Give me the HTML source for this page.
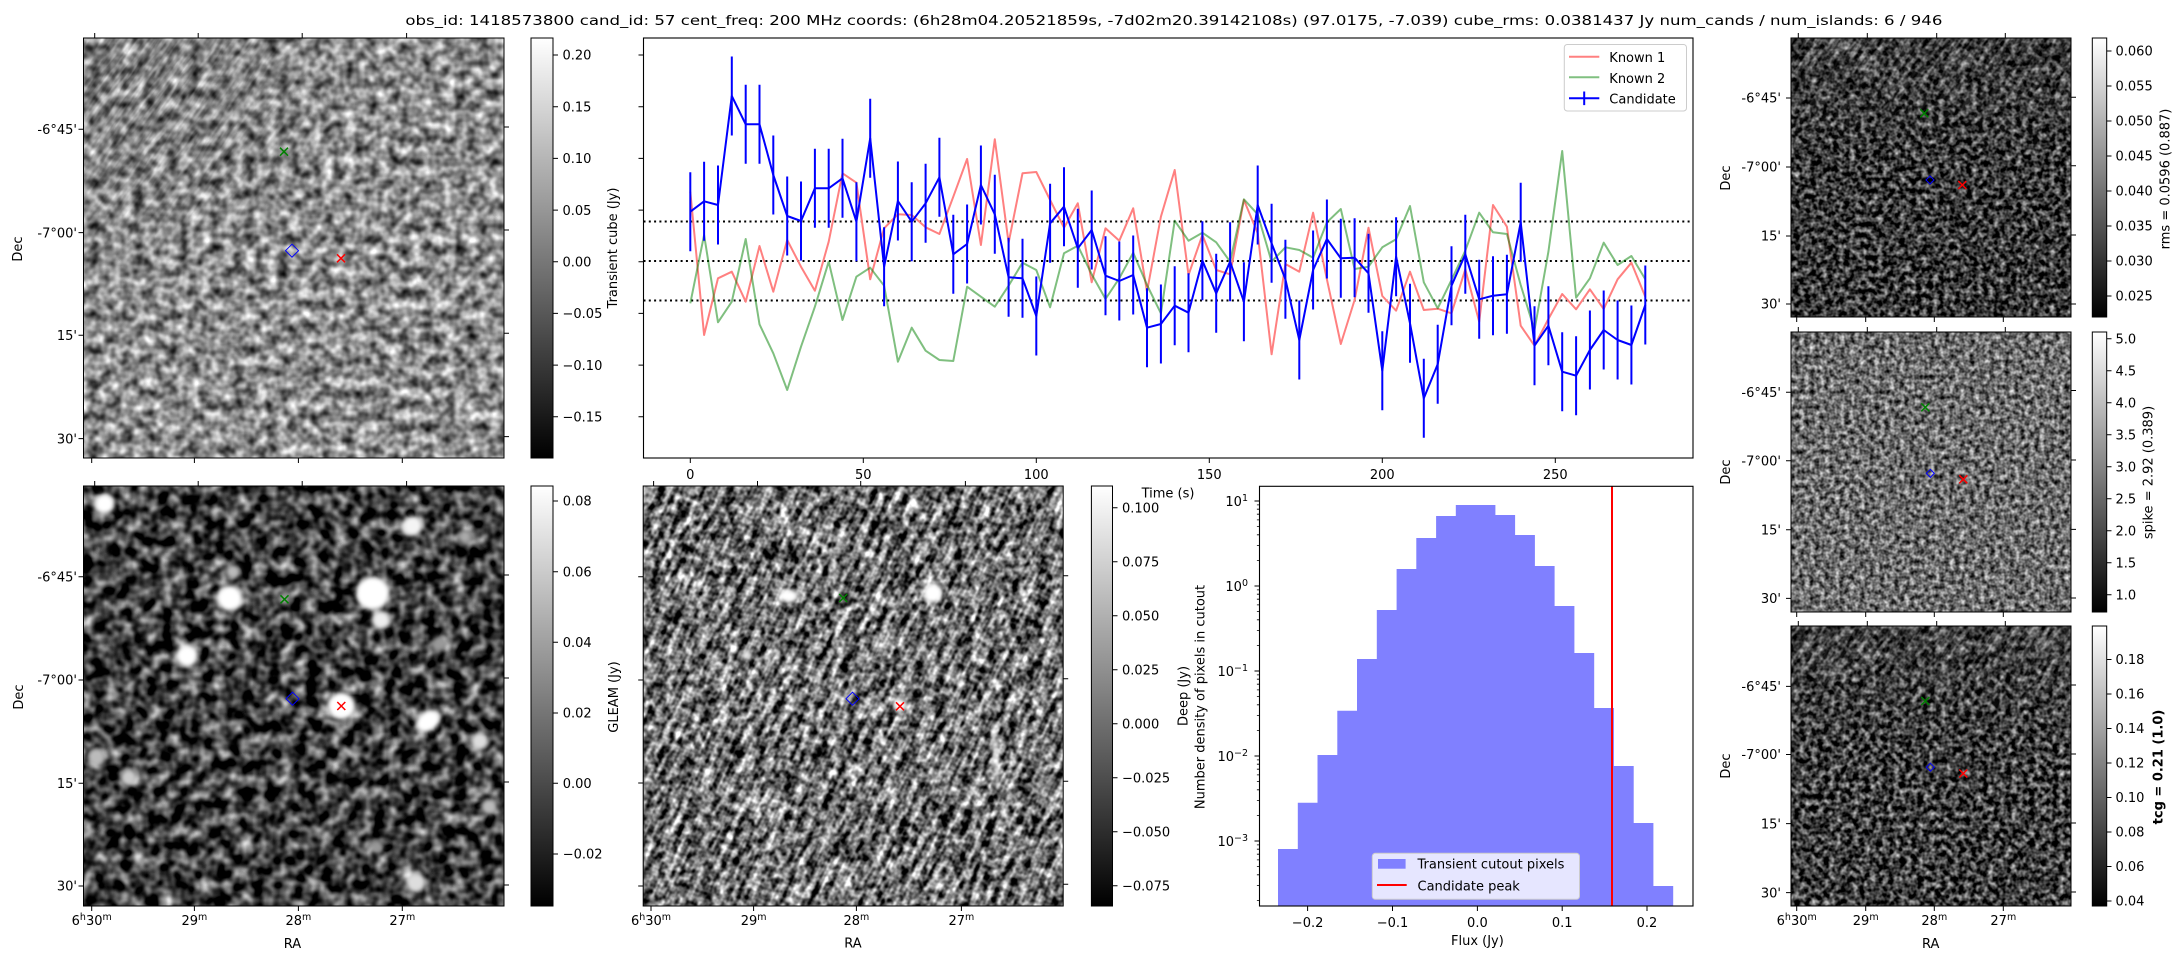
<!DOCTYPE html>
<html><head><meta charset="utf-8"><title>candidate</title>
<style>
html,body{margin:0;padding:0;background:#fff;width:2184px;height:960px;overflow:hidden}
svg{display:block}
text{font-family:"DejaVu Sans","Liberation Sans",sans-serif;font-size:13px;fill:#000}
</style></head><body>
<svg xmlns="http://www.w3.org/2000/svg" width="2184" height="960" viewBox="0 0 2184 960" overflow="hidden">
<defs>
<linearGradient id="cbg" x1="0" y1="1" x2="0" y2="0"><stop offset="0" stop-color="#000"/><stop offset="1" stop-color="#fff"/></linearGradient>
<linearGradient id="fade" x1="0" y1="0" x2="0" y2="1"><stop offset="0" stop-color="#fff"/><stop offset="0.42" stop-color="#000"/></linearGradient>
<radialGradient id="ulfade" cx="0.15" cy="0.1" r="0.5"><stop offset="0" stop-color="#fff"/><stop offset="1" stop-color="#000"/></radialGradient>
<filter id="fA" x="0" y="0" width="1" height="1" color-interpolation-filters="sRGB">
<feTurbulence type="fractalNoise" baseFrequency="0.09" numOctaves="2" seed="11"/>
<feColorMatrix type="matrix" values="1.3 0 0 0 -0.1 1.3 0 0 0 -0.1 1.3 0 0 0 -0.1 0 0 0 0 1"/>
</filter>
<filter id="fF" x="0" y="0" width="1" height="1" color-interpolation-filters="sRGB">
<feTurbulence type="fractalNoise" baseFrequency="0.075" numOctaves="2" seed="5"/>
<feColorMatrix type="matrix" values="1.6 0 0 0 -0.55 1.6 0 0 0 -0.55 1.6 0 0 0 -0.55 0 0 0 0 1"/>
</filter>
<filter id="fG" x="0" y="0" width="1" height="1" color-interpolation-filters="sRGB">
<feTurbulence type="fractalNoise" baseFrequency="0.03 0.15" numOctaves="2" seed="21" result="t1"/>
<feColorMatrix in="t1" type="matrix" values="1 0 0 0 0 1 0 0 0 0 1 0 0 0 0 0 0 0 0 1" result="a1"/>
<feTurbulence type="fractalNoise" baseFrequency="0.14" numOctaves="2" seed="9" result="t2"/>
<feColorMatrix in="t2" type="matrix" values="1 0 0 0 0 1 0 0 0 0 1 0 0 0 0 0 0 0 0 1" result="a2"/>
<feComposite in="a1" in2="a2" operator="arithmetic" k1="0" k2="0.5" k3="0.5" k4="0"/>
<feColorMatrix type="matrix" values="2.8 0 0 0 -0.96 2.8 0 0 0 -0.96 2.8 0 0 0 -0.96 0 0 0 0 1"/>
</filter>
<filter id="fR1" x="0" y="0" width="1" height="1" color-interpolation-filters="sRGB">
<feTurbulence type="fractalNoise" baseFrequency="0.18" numOctaves="2" seed="31"/>
<feColorMatrix type="matrix" values="1.5 0 0 0 -0.53 1.5 0 0 0 -0.53 1.5 0 0 0 -0.53 0 0 0 0 1"/>
</filter>
<filter id="fR2" x="0" y="0" width="1" height="1" color-interpolation-filters="sRGB">
<feTurbulence type="fractalNoise" baseFrequency="0.2" numOctaves="2" seed="41"/>
<feColorMatrix type="matrix" values="1.25 0 0 0 -0.2 1.25 0 0 0 -0.2 1.25 0 0 0 -0.2 0 0 0 0 1"/>
</filter>
<filter id="fR3" x="0" y="0" width="1" height="1" color-interpolation-filters="sRGB">
<feTurbulence type="fractalNoise" baseFrequency="0.17" numOctaves="2" seed="51"/>
<feColorMatrix type="matrix" values="1.5 0 0 0 -0.51 1.5 0 0 0 -0.51 1.5 0 0 0 -0.51 0 0 0 0 1"/>
</filter>
<filter id="fS" x="0" y="0" width="1" height="1" color-interpolation-filters="sRGB">
<feTurbulence type="fractalNoise" baseFrequency="0.035 0.2" numOctaves="2" seed="61"/>
<feColorMatrix type="matrix" values="3.0 0 0 0 -1.2 3.0 0 0 0 -1.2 3.0 0 0 0 -1.2 0 0 0 0 1"/>
</filter>
<pattern id="pG" patternUnits="userSpaceOnUse" x="0" y="0" width="1400" height="1400" patternTransform="rotate(-65 853 696)"><rect x="0" y="0" width="1400" height="1400" filter="url(#fG)"/></pattern>
<pattern id="pS" patternUnits="userSpaceOnUse" x="1300" y="-100" width="1200" height="1200" patternTransform="rotate(-55 1931 472)"><rect x="0" y="0" width="1200" height="1200" filter="url(#fS)"/></pattern>
<pattern id="pSA" patternUnits="userSpaceOnUse" x="-300" y="-300" width="1100" height="1100" patternTransform="rotate(-55 294 248)"><rect x="0" y="0" width="1100" height="1100" filter="url(#fS)"/></pattern>
<filter id="blur" x="-1" y="-1" width="3" height="3"><feGaussianBlur stdDeviation="2.5"/></filter>
<clipPath id="cpF"><rect x="83.5" y="486" width="420.5" height="420"/></clipPath>
<clipPath id="cpG"><rect x="643.2" y="486" width="420" height="420"/></clipPath>
<clipPath id="cpL"><rect x="643.5" y="38" width="1049.5" height="420"/></clipPath>
<mask id="mk1" maskUnits="userSpaceOnUse" x="1791" y="38" width="280" height="279"><rect x="1791" y="38" width="280" height="279" fill="url(#fade)"/></mask>
<mask id="mk3" maskUnits="userSpaceOnUse" x="1791" y="626" width="280" height="280"><rect x="1791" y="626" width="280" height="280" fill="url(#fade)"/></mask>
<mask id="mkA" maskUnits="userSpaceOnUse" x="83.5" y="38" width="420.5" height="420"><rect x="83.5" y="38" width="420.5" height="420" fill="url(#ulfade)"/></mask>
</defs>

<!-- Title -->
<text x="405.4" y="25" font-size="16.5" textLength="1537" lengthAdjust="spacingAndGlyphs">obs_id: 1418573800 cand_id: 57 cent_freq: 200 MHz coords: (6h28m04.20521859s, -7d02m20.39142108s) (97.0175, -7.039) cube_rms: 0.0381437 Jy num_cands / num_islands: 6 / 946</text>

<!-- ===== Top-left transient image ===== -->
<rect x="83.5" y="38" width="420.5" height="420" filter="url(#fA)"/>
<rect x="83.5" y="38" width="420.5" height="420" fill="url(#pSA)" mask="url(#mkA)" opacity="0.25"/>
<rect x="83.5" y="38" width="420.5" height="420" fill="none" stroke="#000" stroke-width="1"/>
<g stroke="#000" stroke-width="1" fill="none">
<path d="M94.7,38V33M198.2,38V33M302.2,38V33M406.6,38V33M91.7,458V463M194.4,458V463M298.4,458V463M402.3,458V463M83.5,129.3H78.5M83.5,232.6H78.5M83.5,335.3H78.5M83.5,438.6H78.5M504,127H509M504,230H509M504,333.3H509M504,436.6H509"/>
</g>
<g text-anchor="end">
<text x="77" y="134">-6°45'</text><text x="77" y="237.3">-7°00'</text><text x="77" y="340">15'</text><text x="77" y="443.3">30'</text>
</g>
<text transform="translate(22,249) rotate(-90)" text-anchor="middle">Dec</text>
<path d="M280,147.7L288,155.7M280,155.7L288,147.7" stroke="#008000" stroke-width="1.5"/>
<path d="M292,244.2L298.5,250.7L292,257.2L285.5,250.7Z" stroke="#0000ff" stroke-width="1" fill="none"/>
<path d="M337,254.3L345,262.3M337,262.3L345,254.3" stroke="#ff0000" stroke-width="1.5"/>

<!-- colorbar A -->
<rect x="531" y="38" width="22" height="420" fill="url(#cbg)" stroke="#000" stroke-width="1"/>
<path d="M553,55H558M553,106.7H558M553,158.4H558M553,210.1H558M553,261.7H558M553,313.4H558M553,365.1H558M553,416.8H558" stroke="#000" stroke-width="1"/>
<g>
<text x="562.5" y="59.7">0.20</text><text x="562.5" y="111.4">0.15</text><text x="562.5" y="163.1">0.10</text><text x="562.5" y="214.8">0.05</text><text x="562.5" y="266.4">0.00</text><text x="562.5" y="318.1">−0.05</text><text x="562.5" y="369.8">−0.10</text><text x="562.5" y="421.5">−0.15</text>
</g>
<text transform="translate(617,248) rotate(-90)" text-anchor="middle">Transient cube (Jy)</text>

<!-- ===== Light curve ===== -->
<g clip-path="url(#cpL)">
<path d="M643.5,221.5H1693M643.5,261H1693M643.5,300.5H1693" stroke="#000" stroke-width="2" stroke-dasharray="2 3.3" fill="none"/>
<polyline fill="none" stroke="#ff8080" stroke-width="2" stroke-linejoin="round" points="690.3,191.7 704.1,335 718.0,278.3 731.8,271.7 745.7,301.7 759.5,246 773.3,291.7 787.2,240 801.0,266.7 814.9,290.7 828.7,241.7 842.5,173.3 856.4,182.7 870.2,279.3 884.1,228.3 897.9,214.3 911.7,215 925.6,227.3 939.4,234 953.3,196.7 967.1,159 980.9,245 994.8,139.3 1008.6,242.7 1022.5,173.3 1036.3,172 1050.1,200 1064.0,227.7 1077.8,203.3 1091.7,282.3 1105.5,228.3 1119.3,240.7 1133.2,208.3 1147.0,291.7 1160.9,216.7 1174.7,170 1188.5,275 1202.4,235 1216.2,270 1230.1,274.3 1243.9,200 1257.7,233.3 1271.6,354.3 1285.4,264 1299.3,271.7 1313.1,212.7 1326.9,279.3 1340.8,344 1354.6,300 1368.5,227.7 1382.3,296 1396.1,310.7 1410.0,271.7 1423.8,310 1437.7,308.7 1451.5,313.3 1465.3,269.3 1479.2,321.7 1493.0,205 1506.9,226.7 1520.7,325.7 1534.5,345.7 1548.4,319 1562.2,294 1576.1,309.3 1589.9,289.3 1603.7,309 1617.6,279.3 1631.4,262.7 1645.3,296.7"/>
<polyline fill="none" stroke="#008000" stroke-opacity="0.5" stroke-width="2" stroke-linejoin="round" points="690.3,303.3 704.1,235 718.0,322.3 731.8,301.7 745.7,239 759.5,324.3 773.3,353.3 787.2,390 801.0,346.7 814.9,306.7 828.7,261.7 842.5,320 856.4,276.7 870.2,267.7 884.1,285.7 897.9,361.7 911.7,327.7 925.6,350.7 939.4,360 953.3,361 967.1,286.7 980.9,296.7 994.8,306.7 1008.6,285.7 1022.5,262.7 1036.3,270 1050.1,307.3 1064.0,253.3 1077.8,245.7 1091.7,274.3 1105.5,299 1119.3,278.3 1133.2,252.7 1147.0,285 1160.9,313.3 1174.7,220.7 1188.5,240.7 1202.4,232.7 1216.2,242.3 1230.1,261.7 1243.9,199.3 1257.7,214.3 1271.6,261.7 1285.4,247.3 1299.3,250 1313.1,257.7 1326.9,222.3 1340.8,209 1354.6,269 1368.5,266.7 1382.3,247.3 1396.1,239.3 1410.0,206 1423.8,282.3 1437.7,308.3 1451.5,280 1465.3,250.7 1479.2,212.7 1493.0,232.3 1506.9,234 1520.7,285 1534.5,330 1548.4,251.7 1562.2,151 1576.1,297.7 1589.9,278.3 1603.7,242.7 1617.6,265 1631.4,256 1645.3,279.3"/>
<path stroke="#0000ff" stroke-width="2" fill="none" d="M690.3,172.2V251.2M704.1,161.8V240.8M718.0,165.5V244.5M731.8,56.5V135.5M745.7,84.8V163.8M759.5,84.8V163.8M773.3,135.5V214.5M787.2,176.5V255.5M801.0,181.5V260.5M814.9,148.8V227.8M828.7,148.8V227.8M842.5,138.8V217.8M856.4,182.2V261.2M870.2,98.8V177.8M884.1,227.2V306.2M897.9,161.5V240.5M911.7,182.2V261.2M925.6,163.8V242.8M939.4,137.8V216.8M953.3,214.8V293.8M967.1,204.5V283.5M980.9,145.5V224.5M994.8,174.8V253.8M1008.6,237.8V316.8M1022.5,238.8V317.8M1036.3,276.5V355.5M1050.1,183.8V262.8M1064.0,167.2V246.2M1077.8,208.8V287.8M1091.7,190.5V269.5M1105.5,236.2V315.2M1119.3,241.5V320.5M1133.2,235.5V314.5M1147.0,288.2V367.2M1160.9,284.5V363.5M1174.7,266.2V345.2M1188.5,273.2V352.2M1202.4,221.2V300.2M1216.2,253.8V332.8M1230.1,222.2V301.2M1243.9,262.2V341.2M1257.7,165.5V244.5M1271.6,203.8V282.8M1285.4,239.8V318.8M1299.3,300.5V379.5M1313.1,230.5V309.5M1326.9,199.5V278.5M1340.8,218.8V297.8M1354.6,218.2V297.2M1368.5,233.8V312.8M1382.3,331.2V410.2M1396.1,217.2V296.2M1410.0,283.8V362.8M1423.8,358.8V437.8M1437.7,324.8V403.8M1451.5,246.2V325.2M1465.3,214.8V293.8M1479.2,259.8V338.8M1493.0,256.2V335.2M1506.9,254.8V333.8M1520.7,182.8V261.8M1534.5,306.2V385.2M1548.4,286.2V365.2M1562.2,332.2V411.2M1576.1,336.2V415.2M1589.9,310.5V389.5M1603.7,290.5V369.5M1617.6,300.5V379.5M1631.4,305.5V384.5M1645.3,265.5V344.5"/>
<polyline fill="none" stroke="#0000ff" stroke-width="2" stroke-linejoin="round" points="690.3,211.7 704.1,201.3 718.0,205 731.8,96 745.7,124.3 759.5,124.3 773.3,175 787.2,216 801.0,221 814.9,188.3 828.7,188.3 842.5,178.3 856.4,221.7 870.2,138.3 884.1,266.7 897.9,201 911.7,221.7 925.6,203.3 939.4,177.3 953.3,254.3 967.1,244 980.9,185 994.8,214.3 1008.6,277.3 1022.5,278.3 1036.3,316 1050.1,223.3 1064.0,206.7 1077.8,248.3 1091.7,230 1105.5,275.7 1119.3,281 1133.2,275 1147.0,327.7 1160.9,324 1174.7,305.7 1188.5,312.7 1202.4,260.7 1216.2,293.3 1230.1,261.7 1243.9,301.7 1257.7,205 1271.6,243.3 1285.4,279.3 1299.3,340 1313.1,270 1326.9,239 1340.8,258.3 1354.6,257.7 1368.5,273.3 1382.3,370.7 1396.1,256.7 1410.0,323.3 1423.8,398.3 1437.7,364.3 1451.5,285.7 1465.3,254.3 1479.2,299.3 1493.0,295.7 1506.9,294.3 1520.7,222.3 1534.5,345.7 1548.4,325.7 1562.2,371.7 1576.1,375.7 1589.9,350 1603.7,330 1617.6,340 1631.4,345 1645.3,305"/>
</g>
<rect x="643.5" y="38" width="1049.5" height="420" fill="none" stroke="#000" stroke-width="1.1"/>
<path d="M643.5,55H638.5M643.5,106.7H638.5M643.5,158.4H638.5M643.5,210.1H638.5M643.5,261.7H638.5M643.5,313.4H638.5M643.5,365.1H638.5M643.5,416.8H638.5M690.3,458V463M863.3,458V463M1036.3,458V463M1209.3,458V463M1382.3,458V463M1555.3,458V463" stroke="#000" stroke-width="1"/>
<g text-anchor="middle">
<text x="690.3" y="479">0</text><text x="863.3" y="479">50</text><text x="1036.3" y="479">100</text><text x="1209.3" y="479">150</text><text x="1382.3" y="479">200</text><text x="1555.3" y="479">250</text>
<text x="1168" y="497.5">Time (s)</text>
</g>
<!-- legend -->
<rect x="1564.3" y="44.5" width="122.2" height="66.5" rx="3" fill="#fff" fill-opacity="0.8" stroke="#cccccc" stroke-width="1"/>
<path d="M1569,56.7H1599.3" stroke="#ff8080" stroke-width="2"/>
<path d="M1569,77.3H1599.3" stroke="#80c080" stroke-width="2"/>
<path d="M1569,98.3H1599.3M1584.2,91.5V105.1" stroke="#0000ff" stroke-width="2"/>
<text x="1609.3" y="62">Known 1</text>
<text x="1609.3" y="82.8">Known 2</text>
<text x="1609.3" y="103.6">Candidate</text>

<!-- ===== Right top (rms) ===== -->
<rect x="1791" y="38" width="280" height="279" filter="url(#fR1)"/>
<rect x="1791" y="38" width="280" height="279" fill="url(#pS)" mask="url(#mk1)" opacity="0.35"/>
<rect x="1791" y="38" width="280" height="279" fill="none" stroke="#000" stroke-width="1"/>
<path d="M1798.3,38V33M1867.3,38V33M1936.7,38V33M2005.3,38V33M1796.7,317V322M1865.7,317V322M1934.3,317V322M2003.3,317V322M1791,98H1786M1791,167H1786M1791,236H1786M1791,304H1786M2071,97.3H2076M2071,165.7H2076M2071,235H2076M2071,304H2076" stroke="#000" stroke-width="1"/>
<g text-anchor="end"><text x="1781" y="102.7">-6°45'</text><text x="1781" y="171.7">-7°00'</text><text x="1781" y="240.7">15'</text><text x="1781" y="308.7">30'</text></g>
<text transform="translate(1730,178) rotate(-90)" text-anchor="middle">Dec</text>
<path d="M1920.3,109.3L1928.3,117.3M1920.3,117.3L1928.3,109.3" stroke="#008000" stroke-width="1.5"/>
<path d="M1930,176L1934,180L1930,184L1926,180Z" stroke="#0000ff" stroke-width="1" fill="none"/>
<path d="M1958.3,181L1966.3,189M1958.3,189L1966.3,181" stroke="#ff0000" stroke-width="1.5"/>
<rect x="2092.3" y="38" width="14.4" height="279" fill="url(#cbg)" stroke="#000" stroke-width="1"/>
<path d="M2106.7,51H2111.5M2106.7,86H2111.5M2106.7,121H2111.5M2106.7,156H2111.5M2106.7,191H2111.5M2106.7,226H2111.5M2106.7,261H2111.5M2106.7,296H2111.5" stroke="#000" stroke-width="1"/>
<g><text x="2115.5" y="55.7">0.060</text><text x="2115.5" y="90.7">0.055</text><text x="2115.5" y="125.7">0.050</text><text x="2115.5" y="160.7">0.045</text><text x="2115.5" y="195.7">0.040</text><text x="2115.5" y="230.7">0.035</text><text x="2115.5" y="265.7">0.030</text><text x="2115.5" y="300.7">0.025</text></g>
<text transform="translate(2169.5,179) rotate(-90)" text-anchor="middle">rms = 0.0596 (0.887)</text>

<!-- ===== Right middle (spike) ===== -->
<rect x="1791" y="332" width="280" height="280" filter="url(#fR2)"/>
<rect x="1791" y="332" width="280" height="280" fill="none" stroke="#000" stroke-width="1"/>
<path d="M1798.3,332V327M1867.3,332V327M1936.7,332V327M2005.3,332V327M1796.7,612V617M1865.7,612V617M1934.3,612V617M2003.3,612V617M1791,392.2H1786M1791,460.8H1786M1791,529.8H1786M1791,598.4H1786M2071,390.5H2076M2071,460H2076M2071,529.4H2076M2071,598H2076" stroke="#000" stroke-width="1"/>
<g text-anchor="end"><text x="1781" y="396.9">-6°45'</text><text x="1781" y="465.5">-7°00'</text><text x="1781" y="534.5">15'</text><text x="1781" y="603.1">30'</text></g>
<text transform="translate(1730,472) rotate(-90)" text-anchor="middle">Dec</text>
<path d="M1921.3,403.3L1929.3,411.3M1921.3,411.3L1929.3,403.3" stroke="#008000" stroke-width="1.5"/>
<path d="M1930.3,469.4L1934.3,473.4L1930.3,477.4L1926.3,473.4Z" stroke="#0000ff" stroke-width="1" fill="none"/>
<path d="M1959.3,475.3L1967.3,483.3M1959.3,483.3L1967.3,475.3" stroke="#ff0000" stroke-width="1.5"/>
<rect x="2092.3" y="332" width="14.4" height="280" fill="url(#cbg)" stroke="#000" stroke-width="1"/>
<path d="M2106.7,338.7H2111.5M2106.7,370.7H2111.5M2106.7,402.7H2111.5M2106.7,434.7H2111.5M2106.7,466.7H2111.5M2106.7,498.7H2111.5M2106.7,530.7H2111.5M2106.7,562.7H2111.5M2106.7,594.7H2111.5" stroke="#000" stroke-width="1"/>
<g><text x="2115.5" y="343.4">5.0</text><text x="2115.5" y="375.4">4.5</text><text x="2115.5" y="407.4">4.0</text><text x="2115.5" y="439.4">3.5</text><text x="2115.5" y="471.4">3.0</text><text x="2115.5" y="503.4">2.5</text><text x="2115.5" y="535.4">2.0</text><text x="2115.5" y="567.4">1.5</text><text x="2115.5" y="599.4">1.0</text></g>
<text transform="translate(2152.5,472.5) rotate(-90)" text-anchor="middle">spike = 2.92 (0.389)</text>

<!-- ===== Right bottom (tcg) ===== -->
<rect x="1791" y="626" width="280" height="280" filter="url(#fR3)"/>
<rect x="1791" y="626" width="280" height="280" fill="url(#pS)" mask="url(#mk3)" opacity="0.35"/>
<rect x="1791" y="626" width="280" height="280" fill="none" stroke="#000" stroke-width="1"/>
<path d="M1798.3,626V621M1867.3,626V621M1936.7,626V621M2005.3,626V621M1796.7,906V911M1865.7,906V911M1934.3,906V911M2003.3,906V911M1791,686.4H1786M1791,754.5H1786M1791,823.6H1786M1791,892.6H1786M2071,685H2076M2071,754H2076M2071,823H2076M2071,892H2076" stroke="#000" stroke-width="1"/>
<g text-anchor="end"><text x="1781" y="691.1">-6°45'</text><text x="1781" y="759.2">-7°00'</text><text x="1781" y="828.3">15'</text><text x="1781" y="897.3">30'</text></g>
<text transform="translate(1730,766) rotate(-90)" text-anchor="middle">Dec</text>
<g text-anchor="middle">
<text x="1796.7" y="925">6<tspan dy="-5" font-size="9.5">h</tspan><tspan dy="5">30</tspan><tspan dy="-5" font-size="9.5">m</tspan></text>
<text x="1865.7" y="925">29<tspan dy="-5" font-size="9.5">m</tspan></text>
<text x="1934.3" y="925">28<tspan dy="-5" font-size="9.5">m</tspan></text>
<text x="2003.3" y="925">27<tspan dy="-5" font-size="9.5">m</tspan></text>
<text x="1930.7" y="948">RA</text>
</g>
<path d="M1921.3,697L1929.3,705M1921.3,705L1929.3,697" stroke="#008000" stroke-width="1.5"/>
<path d="M1930.3,763.2L1934.3,767.2L1930.3,771.2L1926.3,767.2Z" stroke="#0000ff" stroke-width="1" fill="none"/>
<path d="M1959.3,769.5L1967.3,777.5M1959.3,777.5L1967.3,769.5" stroke="#ff0000" stroke-width="1.5"/>
<rect x="2092.3" y="626" width="14.4" height="280" fill="url(#cbg)" stroke="#000" stroke-width="1"/>
<path d="M2106.7,659.5H2111.5M2106.7,694H2111.5M2106.7,728.5H2111.5M2106.7,763H2111.5M2106.7,797.5H2111.5M2106.7,832H2111.5M2106.7,866.5H2111.5M2106.7,901H2111.5" stroke="#000" stroke-width="1"/>
<g><text x="2115.5" y="664.2">0.18</text><text x="2115.5" y="698.7">0.16</text><text x="2115.5" y="733.2">0.14</text><text x="2115.5" y="767.7">0.12</text><text x="2115.5" y="802.2">0.10</text><text x="2115.5" y="836.7">0.08</text><text x="2115.5" y="871.2">0.06</text><text x="2115.5" y="905.7">0.04</text></g>
<text transform="translate(2162.5,767) rotate(-90)" text-anchor="middle" font-weight="bold">tcg = 0.21 (1.0)</text>

<!-- ===== Bottom-left GLEAM image ===== -->
<g clip-path="url(#cpF)">
<rect x="83.5" y="486" width="420.5" height="420" filter="url(#fF)"/>
<g filter="url(#blur)">
<circle cx="104.4" cy="504" r="10" fill="#fff"/>
<circle cx="412.5" cy="526" r="10" fill="#f4f4f4"/>
<circle cx="465" cy="536.7" r="7" fill="#aaa"/>
<circle cx="232.7" cy="571.7" r="7" fill="#bbb"/>
<circle cx="229.8" cy="598.3" r="13" fill="#fff"/>
<circle cx="372.9" cy="593.3" r="17" fill="#fff"/>
<circle cx="380.9" cy="620" r="9" fill="#eee"/>
<circle cx="284.5" cy="599" r="6" fill="#999"/>
<circle cx="186.9" cy="656" r="11" fill="#fff"/>
<circle cx="439.8" cy="643" r="7" fill="#999"/>
<circle cx="341.3" cy="706" r="14" fill="#fff"/>
<ellipse cx="428" cy="721" rx="13" ry="10" transform="rotate(-35 428 721)" fill="#fff"/>
<circle cx="479.8" cy="741" r="9" fill="#ddd"/>
<circle cx="96.4" cy="756.7" r="9" fill="#bbb"/>
<circle cx="128.8" cy="777.3" r="8" fill="#ccc"/>
<circle cx="489" cy="806.7" r="8" fill="#bbb"/>
<circle cx="377" cy="846.7" r="6" fill="#999"/>
<circle cx="415.8" cy="882.7" r="10" fill="#ddd"/>
</g>
</g>
<rect x="83.5" y="486" width="420.5" height="420" fill="none" stroke="#000" stroke-width="1"/>
<path d="M94.7,486V481M198.2,486V481M302.2,486V481M406.6,486V481M91.7,906V911M194.4,906V911M298.4,906V911M402.3,906V911M83.5,576.7H78.5M83.5,680H78.5M83.5,783.3H78.5M83.5,886H78.5M504,575H509M504,678H509M504,782H509M504,885H509" stroke="#000" stroke-width="1"/>
<g text-anchor="end"><text x="77" y="581.4">-6°45'</text><text x="77" y="684.7">-7°00'</text><text x="77" y="788">15'</text><text x="77" y="890.7">30'</text></g>
<text transform="translate(23,697) rotate(-90)" text-anchor="middle">Dec</text>
<g text-anchor="middle">
<text x="91.7" y="925">6<tspan dy="-5" font-size="9.5">h</tspan><tspan dy="5">30</tspan><tspan dy="-5" font-size="9.5">m</tspan></text>
<text x="194.4" y="925">29<tspan dy="-5" font-size="9.5">m</tspan></text>
<text x="298.4" y="925">28<tspan dy="-5" font-size="9.5">m</tspan></text>
<text x="402.3" y="925">27<tspan dy="-5" font-size="9.5">m</tspan></text>
<text x="292.5" y="948">RA</text>
</g>
<path d="M280.5,595.3L288.5,603.3M280.5,603.3L288.5,595.3" stroke="#008000" stroke-width="1.5"/>
<path d="M292.5,692.2L299,698.7L292.5,705.2L286,698.7Z" stroke="#0000ff" stroke-width="1" fill="none"/>
<path d="M337.3,702L345.3,710M337.3,710L345.3,702" stroke="#ff0000" stroke-width="1.5"/>
<rect x="531" y="486" width="22" height="420" fill="url(#cbg)" stroke="#000" stroke-width="1"/>
<path d="M553,501H558M553,571.7H558M553,642.3H558M553,713H558M553,783.3H558M553,854H558" stroke="#000" stroke-width="1"/>
<g><text x="562.7" y="505.7">0.08</text><text x="562.7" y="576.4">0.06</text><text x="562.7" y="647">0.04</text><text x="562.7" y="717.7">0.02</text><text x="562.7" y="788">0.00</text><text x="562.7" y="858.7">−0.02</text></g>
<text transform="translate(618,697) rotate(-90)" text-anchor="middle">GLEAM (Jy)</text>

<!-- ===== Deep image ===== -->
<rect x="643.2" y="486" width="420" height="420" fill="url(#pG)"/>
<g clip-path="url(#cpG)">
<g filter="url(#blur)">
<ellipse cx="788.6" cy="596" rx="10" ry="7" fill="#fff"/>
<circle cx="932.9" cy="593.3" r="10" fill="#fff"/>
<circle cx="747" cy="655" r="5" fill="#eee"/>
<circle cx="900" cy="705" r="7" fill="#fff"/>
<path d="M993,722L998,790" stroke="#fff" stroke-width="4"/>
</g>
</g>
<rect x="643.2" y="486" width="420" height="420" fill="none" stroke="#000" stroke-width="1"/>
<path d="M653.6,486V481M757.5,486V481M860.7,486V481M965.4,486V481M651,906V911M753.6,906V911M856.4,906V911M961.4,906V911M643.2,576.7H638.2M643.2,680H638.2M643.2,783H638.2M643.2,886H638.2M1063.2,575.7H1068.2M1063.2,678.7H1068.2M1063.2,781.3H1068.2M1063.2,884.3H1068.2" stroke="#000" stroke-width="1"/>
<g text-anchor="middle">
<text x="651" y="925">6<tspan dy="-5" font-size="9.5">h</tspan><tspan dy="5">30</tspan><tspan dy="-5" font-size="9.5">m</tspan></text>
<text x="753.6" y="925">29<tspan dy="-5" font-size="9.5">m</tspan></text>
<text x="856.4" y="925">28<tspan dy="-5" font-size="9.5">m</tspan></text>
<text x="961.4" y="925">27<tspan dy="-5" font-size="9.5">m</tspan></text>
<text x="853" y="947.5">RA</text>
</g>
<path d="M839.2,594L847.2,602M839.2,602L847.2,594" stroke="#008000" stroke-width="1.5"/>
<path d="M852.5,692.2L859,698.7L852.5,705.2L846,698.7Z" stroke="#0000ff" stroke-width="1" fill="none"/>
<path d="M896,702.3L904,710.3M896,710.3L904,702.3" stroke="#ff0000" stroke-width="1.5"/>
<rect x="1091.4" y="486" width="21.1" height="420" fill="url(#cbg)" stroke="#000" stroke-width="1"/>
<path d="M1112.5,507.7H1117.5M1112.5,561.7H1117.5M1112.5,615.7H1117.5M1112.5,669.7H1117.5M1112.5,723.7H1117.5M1112.5,777.7H1117.5M1112.5,831.7H1117.5M1112.5,885.7H1117.5" stroke="#000" stroke-width="1"/>
<g><text x="1122" y="512.4">0.100</text><text x="1122" y="566.4">0.075</text><text x="1122" y="620.4">0.050</text><text x="1122" y="674.4">0.025</text><text x="1122" y="728.4">0.000</text><text x="1122" y="782.4">−0.025</text><text x="1122" y="836.4">−0.050</text><text x="1122" y="890.4">−0.075</text></g>
<text transform="translate(1187.5,696) rotate(-90)" text-anchor="middle">Deep (Jy)</text>

<!-- ===== Histogram ===== -->
<path fill="#8080ff" d="M1278,906V849H1297.8V802.7H1317.5V755H1337.3V710.7H1357V659H1376.8V610H1396.6V569H1416.3V538H1436.1V516H1455.8V505H1495.4V515H1515.1V535H1534.9V566H1554.6V606H1574.4V653H1594.2V708H1613.9V766H1633.7V823H1653.4V886H1673.2V906Z"/>
<path d="M1612,486.3V906" stroke="#ff0000" stroke-width="2"/>
<rect x="1259.5" y="486.3" width="433.5" height="419.7" fill="none" stroke="#000" stroke-width="1.1"/>
<path d="M1307.6,906V911M1392.5,906V911M1477.4,906V911M1562.2,906V911M1647,906V911M1259.5,501H1254.5M1259.5,586H1254.5M1259.5,671H1254.5M1259.5,756H1254.5M1259.5,841H1254.5" stroke="#000" stroke-width="1"/>
<path stroke="#000" stroke-width="0.8" d="M1259.5,900.4h-2.6M1259.5,885.4h-2.6M1259.5,874.8h-2.6M1259.5,866.6h-2.6M1259.5,859.9h-2.6M1259.5,854.2h-2.6M1259.5,849.2h-2.6M1259.5,844.9h-2.6M1259.5,815.4h-2.6M1259.5,800.4h-2.6M1259.5,789.8h-2.6M1259.5,781.6h-2.6M1259.5,774.9h-2.6M1259.5,769.2h-2.6M1259.5,764.2h-2.6M1259.5,759.9h-2.6M1259.5,730.4h-2.6M1259.5,715.4h-2.6M1259.5,704.8h-2.6M1259.5,696.6h-2.6M1259.5,689.9h-2.6M1259.5,684.2h-2.6M1259.5,679.2h-2.6M1259.5,674.9h-2.6M1259.5,645.4h-2.6M1259.5,630.4h-2.6M1259.5,619.8h-2.6M1259.5,611.6h-2.6M1259.5,604.9h-2.6M1259.5,599.2h-2.6M1259.5,594.2h-2.6M1259.5,589.9h-2.6M1259.5,560.4h-2.6M1259.5,545.4h-2.6M1259.5,534.8h-2.6M1259.5,526.6h-2.6M1259.5,519.9h-2.6M1259.5,514.2h-2.6M1259.5,509.2h-2.6M1259.5,504.9h-2.6"/>
<g text-anchor="end">
<text x="1248" y="506">10<tspan dy="-5" font-size="9.5">1</tspan></text>
<text x="1248" y="591">10<tspan dy="-5" font-size="9.5">0</tspan></text>
<text x="1248" y="676">10<tspan dy="-5" font-size="9.5">−1</tspan></text>
<text x="1248" y="761">10<tspan dy="-5" font-size="9.5">−2</tspan></text>
<text x="1248" y="846">10<tspan dy="-5" font-size="9.5">−3</tspan></text>
</g>
<g text-anchor="middle">
<text x="1307.6" y="927">−0.2</text><text x="1392.5" y="927">−0.1</text><text x="1477.4" y="927">0.0</text><text x="1562.2" y="927">0.1</text><text x="1647" y="927">0.2</text>
<text x="1477.4" y="945">Flux (Jy)</text>
</g>
<text transform="translate(1204.5,697) rotate(-90)" text-anchor="middle">Number density of pixels in cutout</text>
<!-- hist legend -->
<rect x="1372.3" y="853.3" width="207.2" height="46" rx="3" fill="#e6e6ff" stroke="#cccccc" stroke-width="1"/>
<rect x="1378" y="859" width="27.6" height="9.7" fill="#8080ff"/>
<path d="M1377,885H1406.7" stroke="#ff0000" stroke-width="2"/>
<text x="1417.5" y="868.5">Transient cutout pixels</text>
<text x="1417.5" y="890.3">Candidate peak</text>
</svg>
</body></html>
